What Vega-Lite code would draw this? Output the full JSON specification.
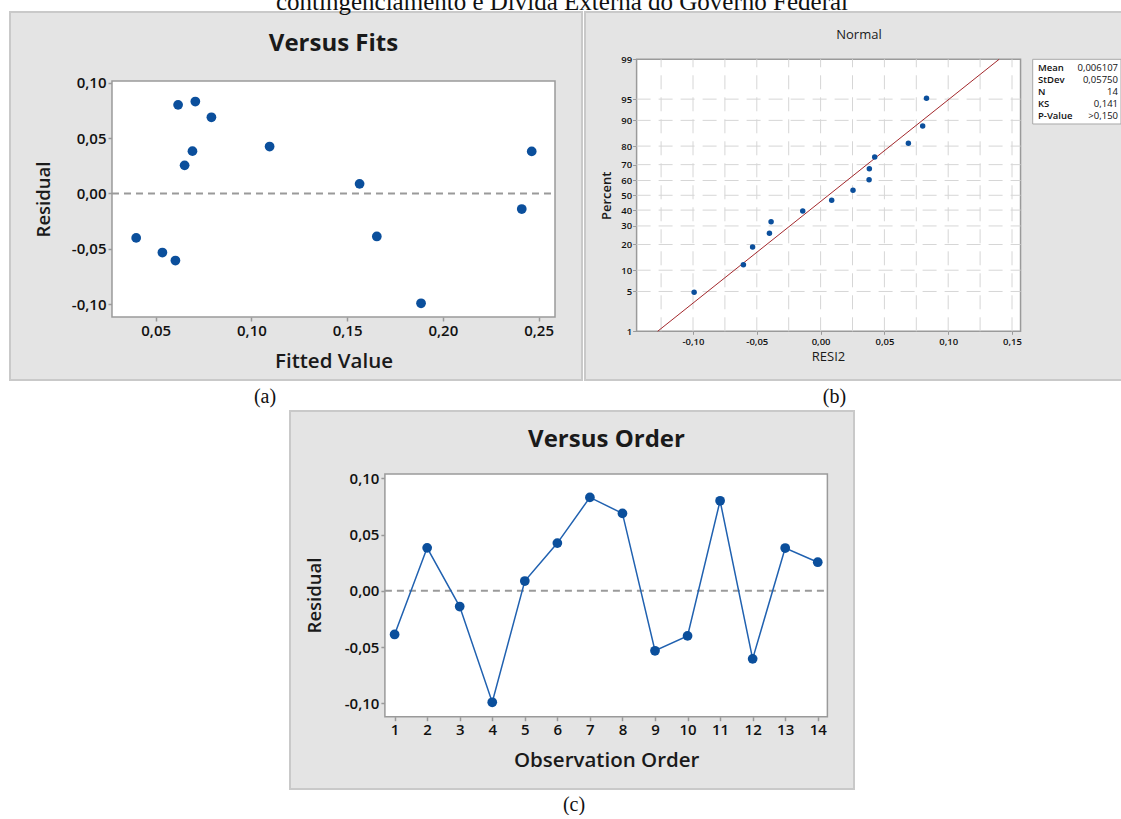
{
  "$schema": "https://vega.github.io/schema/vega-lite/v6.json",
  "background": "white",
  "padding": {"left": 9, "top": -10, "right": 0, "bottom": 0},
  "title": {"text": "contingenciamento e Dívida Externa do Governo Federal", "font": "Liberation Serif", "fontSize": 25, "fontWeight": "normal", "color": "#111111", "anchor": "middle", "baseline": "alphabetic", "offset": -24, "dx": -10},
  "config": {
    "locale": {"number": {"decimal": ",", "thousands": ".", "grouping": [3], "currency": ["", ""], "minus": "-"}},
    "view": {"fill": "#e4e4e4", "stroke": "#c9c9c9", "strokeWidth": 2},
    "axis": {"domain": false, "grid": false, "ticks": true, "tickColor": "#9a9a9a", "tickWidth": 1.5, "tickSize": 4, "labelFont": "Open Sans", "labelFontWeight": 600, "labelColor": "#111111", "titleFont": "Open Sans", "titleColor": "#1a1a1a", "labelOverlap": false, "labelFlush": false, "labelPadding": 2},
    "title": {"font": "Open Sans", "color": "#1a1a1a"}
  },
  "datasets": {
    "res": [
      {"obs": 1, "fit": 0.1655, "resid": -0.0388},
      {"obs": 2, "fit": 0.0692, "resid": 0.0382},
      {"obs": 3, "fit": 0.2412, "resid": -0.0140},
      {"obs": 4, "fit": 0.1886, "resid": -0.0991},
      {"obs": 5, "fit": 0.1565, "resid": 0.0087},
      {"obs": 6, "fit": 0.1095, "resid": 0.0424},
      {"obs": 7, "fit": 0.0707, "resid": 0.0830},
      {"obs": 8, "fit": 0.0791, "resid": 0.0688},
      {"obs": 9, "fit": 0.0535, "resid": -0.0533},
      {"obs": 10, "fit": 0.0398, "resid": -0.0401},
      {"obs": 11, "fit": 0.0617, "resid": 0.0800},
      {"obs": 12, "fit": 0.0603, "resid": -0.0605},
      {"obs": 13, "fit": 0.2464, "resid": 0.0380},
      {"obs": 14, "fit": 0.0651, "resid": 0.0254}
    ],
    "npp": [
      {"resid": -0.0991, "zscore": -1.659},
      {"resid": -0.0605, "zscore": -1.187},
      {"resid": -0.0533, "zscore": -0.884},
      {"resid": -0.0401, "zscore": -0.650},
      {"resid": -0.0388, "zscore": -0.452},
      {"resid": -0.0140, "zscore": -0.269},
      {"resid": 0.0087, "zscore": -0.086},
      {"resid": 0.0254, "zscore": 0.085},
      {"resid": 0.0380, "zscore": 0.267},
      {"resid": 0.0382, "zscore": 0.455},
      {"resid": 0.0424, "zscore": 0.655},
      {"resid": 0.0688, "zscore": 0.889},
      {"resid": 0.0800, "zscore": 1.185},
      {"resid": 0.0830, "zscore": 1.659}
    ],
    "fitline": [
      {"resid": -0.1277, "zscore": -2.3263},
      {"resid": 0.1399, "zscore": 2.3263}
    ],
    "gridx": [
      {"gx": -0.125}, {"gx": -0.1}, {"gx": -0.075}, {"gx": -0.05}, {"gx": -0.025}, {"gx": 0},
      {"gx": 0.025}, {"gx": 0.05}, {"gx": 0.075}, {"gx": 0.1}, {"gx": 0.125}, {"gx": 0.15}
    ],
    "gridz": [
      {"gz": -1.6449}, {"gz": -1.2816}, {"gz": -0.8416}, {"gz": -0.5244}, {"gz": -0.2533}, {"gz": 0},
      {"gz": 0.2533}, {"gz": 0.5244}, {"gz": 0.8416}, {"gz": 1.2816}, {"gz": 1.6449}
    ]
  },
  "spacing": 3,
  "center": true,
  "vconcat": [
    {
      "spacing": 1,
      "hconcat": [
        {
          "title": {"text": "(a)", "orient": "bottom", "anchor": "middle", "font": "Liberation Serif", "fontSize": 20, "fontWeight": "normal", "baseline": "middle", "offset": 16, "dx": -31, "color": "#111111"},
          "vconcat": [
            {
              "width": 572,
              "height": 368,
              "layer": [
                {
                  "data": {"values": [{}]},
                  "mark": {"type": "rect", "fill": "white", "stroke": "#9a9a9a", "strokeWidth": 1.5},
                  "encoding": {
                    "x": {"datum": 0.02717, "type": "quantitative", "scale": {"domain": [-0.0261, 0.27267], "nice": false, "zero": false},
                      "axis": {"title": "Fitted Value", "values": [0.05, 0.1, 0.15, 0.2, 0.25], "tickCount": 30, "format": ".2f", "offset": -63, "labelOverlap": false, "labelFontSize": 15, "titleFontSize": 20.5, "titleFontWeight": 600, "titleX": 323.5, "titleY": 44.7, "titleBaseline": "middle"}},
                    "x2": {"datum": 0.25857},
                    "y": {"datum": 0.10153, "type": "quantitative", "scale": {"domain": [-0.16833, 0.1638], "nice": false, "zero": false},
                      "axis": {"title": "Residual", "values": [-0.1, -0.05, 0, 0.05, 0.1], "tickCount": 30, "format": ".2f", "offset": -102, "labelOverlap": false, "labelFontSize": 15, "titleFontSize": 18.5, "titleFontWeight": 600, "titleX": -68.8, "titleY": 187, "titleBaseline": "middle", "titleAngle": -90}},
                    "y2": {"datum": -0.11146}
                  }
                },
                {
                  "data": {"values": [{}]},
                  "mark": {"type": "rule", "color": "#9a9a9a", "strokeWidth": 2, "strokeDash": [7, 5]},
                  "encoding": {
                    "x": {"datum": 0.02717, "type": "quantitative"},
                    "x2": {"datum": 0.25857},
                    "y": {"datum": 0, "type": "quantitative"}
                  }
                },
                {
                  "data": {"values": [{}]},
                  "mark": {"type": "text", "align": "center", "baseline": "middle", "font": "Open Sans", "fontSize": 24, "fontWeight": "bold", "color": "#1a1a1a"},
                  "encoding": {
                    "x": {"datum": 0.14287, "type": "quantitative"},
                    "y": {"datum": 0.13492, "type": "quantitative"},
                    "text": {"value": "Versus Fits"}
                  }
                },
                {
                  "data": {"name": "res"},
                  "mark": {"type": "circle", "size": 95, "color": "#0b4f9c", "opacity": 1},
                  "encoding": {
                    "x": {"field": "fit", "type": "quantitative"},
                    "y": {"field": "resid", "type": "quantitative"}
                  }
                }
              ]
            }
          ]
        },
        {
          "title": {"text": "(b)", "orient": "bottom", "anchor": "middle", "font": "Liberation Serif", "fontSize": 20, "fontWeight": "normal", "baseline": "middle", "offset": 16, "dx": -25, "color": "#111111"},
          "vconcat": [
            {
              "width": 549,
              "height": 368,
              "layer": [
                {
                  "data": {"values": [{}]},
                  "mark": {"type": "rect", "fill": "white", "stroke": "#9a9a9a", "strokeWidth": 1.5},
                  "encoding": {
                    "x": {"datum": -0.1442, "type": "quantitative", "scale": {"domain": [-0.18464, 0.24561], "nice": false, "zero": false},
                      "axis": {"title": "RESI2", "values": [-0.1, -0.05, 0, 0.05, 0.1, 0.15], "tickCount": 30, "format": ".2f", "offset": -48.7, "labelOverlap": false, "labelFontSize": 9.5, "tickSize": 3, "tickWidth": 1, "titleFontSize": 13, "titleFontWeight": "normal", "titleX": 243, "titleY": 24.7, "titleBaseline": "middle"}},
                    "x2": {"datum": 0.1567},
                    "y": {"datum": 2.3263, "type": "quantitative", "scale": {"domain": [-3.1595, 3.1354], "nice": false, "zero": false},
                      "axis": {"title": "Percent", "values": [-2.3263, -1.6449, -1.2816, -0.8416, -0.5244, -0.2533, 0, 0.2533, 0.5244, 0.8416, 1.2816, 1.6449, 2.3263], "tickCount": 30,
                        "labelExpr": "datum.value < -2 ? '1' : datum.value < -1.5 ? '5' : datum.value < -1 ? '10' : datum.value < -0.7 ? '20' : datum.value < -0.4 ? '30' : datum.value < -0.1 ? '40' : datum.value < 0.1 ? '50' : datum.value < 0.4 ? '60' : datum.value < 0.7 ? '70' : datum.value < 1 ? '80' : datum.value < 1.5 ? '90' : datum.value < 2 ? '95' : '99'",
                        "offset": -51.6, "labelOverlap": false, "labelFontSize": 9.5, "tickSize": 4, "tickWidth": 1, "labelPadding": 1, "titleFontSize": 13, "titleFontWeight": 600, "titleX": -30, "titleY": 183.3, "titleBaseline": "middle", "titleAngle": -90}},
                    "y2": {"datum": -2.3263}
                  }
                },
                {
                  "data": {"name": "gridx"},
                  "mark": {"type": "rule", "color": "#d6d6d6", "strokeWidth": 1, "strokeDash": [14, 8]},
                  "encoding": {
                    "x": {"field": "gx", "type": "quantitative"},
                    "y": {"datum": -2.3263, "type": "quantitative"},
                    "y2": {"datum": 2.3263}
                  }
                },
                {
                  "data": {"name": "gridz"},
                  "mark": {"type": "rule", "color": "#d6d6d6", "strokeWidth": 1, "strokeDash": [14, 8]},
                  "encoding": {
                    "y": {"field": "gz", "type": "quantitative"},
                    "x": {"datum": -0.1442, "type": "quantitative"},
                    "x2": {"datum": 0.1567}
                  }
                },
                {
                  "data": {"name": "fitline"},
                  "mark": {"type": "line", "color": "#a3282c", "strokeWidth": 1},
                  "encoding": {
                    "x": {"field": "resid", "type": "quantitative"},
                    "y": {"field": "zscore", "type": "quantitative"}
                  }
                },
                {
                  "data": {"name": "npp"},
                  "mark": {"type": "circle", "size": 30, "color": "#0b4f9c", "opacity": 1},
                  "encoding": {
                    "x": {"field": "resid", "type": "quantitative"},
                    "y": {"field": "zscore", "type": "quantitative"}
                  }
                },
                {
                  "data": {"values": [{}]},
                  "mark": {"type": "text", "align": "center", "baseline": "middle", "font": "Open Sans", "fontSize": 13, "fontWeight": "normal", "color": "#1a1a1a"},
                  "encoding": {
                    "x": {"datum": 0.03009, "type": "quantitative"},
                    "y": {"datum": 2.742, "type": "quantitative"},
                    "text": {"value": "Normal"}
                  }
                },
                {
                  "data": {"values": [{}]},
                  "mark": {"type": "rect", "fill": "white", "stroke": "#a8a8a8", "strokeWidth": 1},
                  "encoding": {
                    "x": {"datum": 0.16622, "type": "quantitative"},
                    "x2": {"datum": 0.23542},
                    "y": {"datum": 2.3263, "type": "quantitative"},
                    "y2": {"datum": 1.2196}
                  }
                },
                {
                  "data": {"values": [{}]},
                  "mark": {"type": "text", "align": "left", "baseline": "top", "lineHeight": 12, "font": "Open Sans", "fontSize": 9.5, "fontWeight": 600, "color": "#111111"},
                  "encoding": {
                    "x": {"datum": 0.17038, "type": "quantitative"},
                    "y": {"datum": 2.2613, "type": "quantitative"},
                    "text": {"value": ["Mean", "StDev", "N", "KS", "P-Value"]}
                  }
                },
                {
                  "data": {"values": [{}]},
                  "mark": {"type": "text", "align": "right", "baseline": "top", "lineHeight": 12, "font": "Open Sans", "fontSize": 9.5, "fontWeight": "normal", "color": "#111111"},
                  "encoding": {
                    "x": {"datum": 0.23307, "type": "quantitative"},
                    "y": {"datum": 2.2613, "type": "quantitative"},
                    "text": {"value": ["0,006107", "0,05750", "14", "0,141", ">0,150"]}
                  }
                }
              ]
            }
          ]
        }
      ]
    },
    {
      "title": {"text": "(c)", "orient": "bottom", "anchor": "middle", "font": "Liberation Serif", "fontSize": 20, "fontWeight": "normal", "baseline": "middle", "offset": 15, "dx": 2, "color": "#111111"},
      "vconcat": [
        {
          "width": 564,
          "height": 378,
          "layer": [
            {
              "data": {"values": [{}]},
              "mark": {"type": "rect", "fill": "white", "stroke": "#9a9a9a", "strokeWidth": 1.5},
              "encoding": {
                "x": {"datum": 0.702, "type": "quantitative", "scale": {"domain": [-2.2135, 15.1137], "nice": false, "zero": false},
                  "axis": {"title": "Observation Order", "values": [1, 2, 3, 4, 5, 6, 7, 8, 9, 10, 11, 12, 13, 14], "tickCount": 30, "format": "d", "offset": -72.3, "labelOverlap": false, "labelFontSize": 15, "titleFontSize": 20.5, "titleFontWeight": 600, "titleX": 316.2, "titleY": 43.3, "titleBaseline": "middle"}},
                "x2": {"datum": 14.296},
                "y": {"datum": 0.10382, "type": "quantitative", "scale": {"domain": [-0.17618, 0.15982], "nice": false, "zero": false},
                  "axis": {"title": "Residual", "values": [-0.1, -0.05, 0, 0.05, 0.1], "tickCount": 30, "format": ".2f", "offset": -94.9, "labelOverlap": false, "labelFontSize": 15, "titleFontSize": 18.5, "titleFontWeight": 600, "titleX": -70.9, "titleY": 184, "titleBaseline": "middle", "titleAngle": -90}},
                "y2": {"datum": -0.11191}
              }
            },
            {
              "data": {"values": [{}]},
              "mark": {"type": "rule", "color": "#9a9a9a", "strokeWidth": 2, "strokeDash": [7, 5]},
              "encoding": {
                "x": {"datum": 0.702, "type": "quantitative"},
                "x2": {"datum": 14.296},
                "y": {"datum": 0, "type": "quantitative"}
              }
            },
            {
              "data": {"values": [{}]},
              "mark": {"type": "text", "align": "center", "baseline": "middle", "font": "Open Sans", "fontSize": 24, "fontWeight": "bold", "color": "#1a1a1a"},
              "encoding": {
                "x": {"datum": 7.51, "type": "quantitative"},
                "y": {"datum": 0.13404, "type": "quantitative"},
                "text": {"value": "Versus Order"}
              }
            },
            {
              "data": {"name": "res"},
              "mark": {"type": "line", "color": "#2061b0", "strokeWidth": 1.5, "point": {"filled": true, "size": 95, "color": "#0b4f9c", "opacity": 1}},
              "encoding": {
                "x": {"field": "obs", "type": "quantitative"},
                "y": {"field": "resid", "type": "quantitative"}
              }
            }
          ]
        }
      ]
    }
  ]
}
